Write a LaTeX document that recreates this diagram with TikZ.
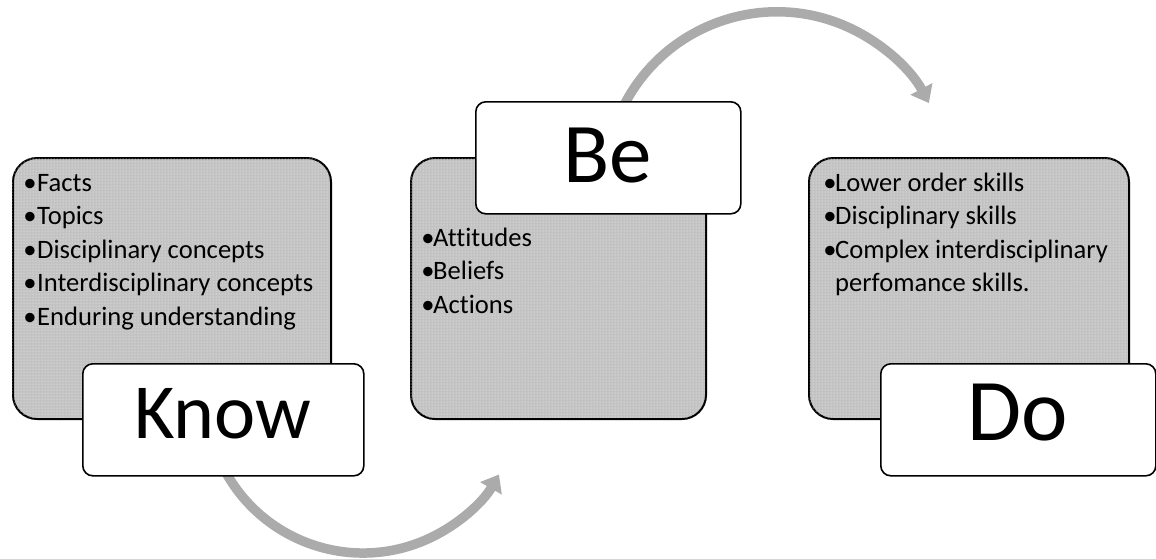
\documentclass[tikz,border=0pt]{standalone}
\usepackage{fontspec}
\setmainfont{Carlito}[Ligatures={NoCommon}]
\usetikzlibrary{arrows.meta,patterns}
\definecolor{panelgray}{HTML}{C2C2C2}
\definecolor{arrowgray}{HTML}{ABABAB}
\tikzset{
  panel/.style={draw=black,line width=2pt,rounded corners=24pt,fill=panelgray,
    minimum width=#1,minimum height=261pt,anchor=north west,inner sep=0pt},
  dotfill/.style={pattern=dots,pattern color=white!90!panelgray,rounded corners=24pt,anchor=north west,
    minimum width=#1,minimum height=261pt,inner sep=0pt},
  labelbox/.style={draw=black,line width=1.6pt,rounded corners=10pt,fill=white,
    minimum width=#1,minimum height=112pt,anchor=north west,inner sep=0pt},
  item/.style={anchor=base west,inner sep=0pt,font=\fontsize{26.6pt}{33pt}\selectfont},
  bulletmark/.style={anchor=base,inner sep=0pt,font=\fontsize{26.6pt}{33pt}\selectfont},
  bigword/.style={anchor=base,inner sep=0pt},
  flow/.style={draw=arrowgray,line width=9.5pt,-{Triangle[width=24pt,length=16pt]}},
}
\begin{document}
\begin{tikzpicture}[x=1pt,y=-1pt]
\useasboundingbox (0,0) rectangle (1156,558);
% arrows (behind the boxes they start from)
\coordinate (a1s) at ({363+157*cos(155)},{396+157*sin(155)});
\coordinate (a2s) at ({777+172*cos(-155)},{183.8+172*sin(-155)});
\draw[flow] (a1s) arc[start angle=155,end angle=30,radius=157];
\draw[flow] (a2s) arc[start angle=-155,end angle=-28,radius=172];
% panels
\node[panel=318pt] (knowp) at (12,157) {};
\node[dotfill=318pt] (knowd) at (12,157) {};
\node[panel=295pt] (bep) at (410,157) {};
\node[dotfill=295pt] (bed) at (410,157) {};
\node[panel=320pt] (dop) at (808,157) {};
\node[dotfill=320pt] (dod) at (808,157) {};
% Know items
\foreach \y/\t [count=\i] in {191/Facts,224.5/Topics,258/Disciplinary concepts,291.5/Interdisciplinary concepts,325/Enduring understanding}{
  \node[bulletmark] (kb\i) at (30,\y) {•};
  \node[item] (k\i) at (37,\y) {\t};
}
% Be items
\foreach \y/\t [count=\i] in {246/Attitudes,279.5/Beliefs,313/Actions}{
  \node[bulletmark] (bb\i) at (428,\y) {•};
  \node[item] (b\i) at (433,\y) {\t};
}
% Do items
\foreach \y/\t [count=\i] in {191/Lower order skills,224.5/Disciplinary skills,258/Complex interdisciplinary}{
  \node[bulletmark] (db\i) at (830,\y) {•};
  \node[item] (d\i) at (835,\y) {\t};
}
\node[item] (d4) at (835,291.5) {perfomance skills.};
% label boxes
\node[labelbox=281pt] (knowb) at (82,363) {};
\node[labelbox=265pt] (beb) at (475,101) {};
\node[labelbox=275pt] (dob) at (880,363) {};
\node[bigword,font=\fontsize{78pt}{80pt}\selectfont] (knowt) at (222.5,438) {Know};
\node[bigword,font=\fontsize{85pt}{88pt}\selectfont] (bet) at (607.5,182) {Be};
\node[bigword,font=\fontsize{88pt}{90pt}\selectfont] (dot) at (1017.5,440) {Do};
\end{tikzpicture}
\end{document}
